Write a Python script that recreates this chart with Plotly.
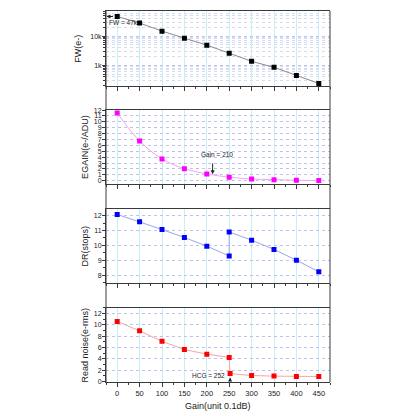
import math
import plotly.graph_objects as go

gain = [0, 50, 100, 150, 200, 250, 300, 350, 400, 450]
fw = [47000, 28000, 14800, 8500, 4900, 2600, 1370, 850, 450, 240]
egain = [11.5, 6.75, 3.7, 2.05, 1.15, 0.6, 0.3, 0.18, 0.08, 0.04]
dr_gain = [0, 50, 100, 150, 200, 250, 250, 300, 350, 400, 450]
dr = [12.09, 11.6, 11.07, 10.53, 9.95, 9.29, 10.91, 10.35, 9.73, 9.0, 8.22]
rn_gain = [0, 50, 100, 150, 200, 250, 252, 300, 350, 400, 450]
rn = [10.6, 8.93, 7.08, 5.63, 4.82, 4.24, 1.39, 1.04, 0.94, 0.87, 0.87]
x_ticks = [0, 50, 100, 150, 200, 250, 300, 350, 400, 450]

FONT = "Liberation Sans, Arial, sans-serif"
FRAME = "#3a3a3a"
VGRID = "#c8eef7"
HGRID = "#bcc3ef"

fig = go.Figure()

fig.add_trace(go.Scatter(x=gain, y=fw, mode="lines+markers", xaxis="x", yaxis="y",
                         line=dict(color="#8a8a8a", width=1),
                         marker=dict(symbol="square", size=5, color="black")))
fig.add_trace(go.Scatter(x=gain, y=egain, mode="lines+markers", xaxis="x2", yaxis="y2",
                         line=dict(color="#f2a6f2", width=1, shape="spline"),
                         marker=dict(symbol="square", size=5, color="#ff00ff")))
fig.add_trace(go.Scatter(x=dr_gain, y=dr, mode="lines+markers", xaxis="x3", yaxis="y3",
                         line=dict(color="#9fa3ee", width=1),
                         marker=dict(symbol="square", size=5, color="#0000ff")))
fig.add_trace(go.Scatter(x=rn_gain, y=rn, mode="lines+markers", xaxis="x4", yaxis="y4",
                         line=dict(color="#f2a6a6", width=1),
                         marker=dict(symbol="square", size=5, color="#ff0000")))

domains = [(0.797, 1.0), (0.533, 0.733), (0.267, 0.467), (0.0, 0.2)]


def xaxis(show_labels):
    return dict(range=[-25, 475], tickvals=x_ticks, showticklabels=show_labels,
                ticks="outside", ticklen=4, tickcolor=FRAME, tickwidth=1,
                minor=dict(dtick=25, tick0=0, ticks="outside", ticklen=2, tickcolor=FRAME),
                showgrid=True, gridcolor=VGRID, gridwidth=1, zeroline=False,
                showline=True, linecolor=FRAME, linewidth=1.2, mirror=True,
                tickfont=dict(size=7.5, family=FONT, color="#222"))


layout = dict(
    width=416, height=416,
    margin=dict(l=106, r=86, t=7, b=34),
    plot_bgcolor="white", paper_bgcolor="white",
    showlegend=False,
    font=dict(family=FONT, color="#222"),
)
for i, (d0, d1) in enumerate(domains):
    n = "" if i == 0 else str(i + 1)
    ax = xaxis(i == 3)
    ax["anchor"] = "y" + n
    ax["domain"] = [0, 1]
    layout["xaxis" + n] = ax

yfont = dict(size=7, family=FONT, color="#222")
ycommon = dict(ticks="outside", ticklen=3, tickcolor=FRAME, tickfont=yfont,
               ticklabelstandoff=-1, zeroline=False, showline=True,
               linecolor=FRAME, linewidth=1, showgrid=True, gridcolor=HGRID,
               gridwidth=1, griddash="dot")
layout["yaxis"] = dict(domain=list(domains[0]), anchor="x", type="log",
                       range=[2.28, 4.86], dtick=1, tickformat="~s",
                       minor=dict(dtick="D1", ticks="outside", ticklen=2, tickcolor=FRAME,
                                  showgrid=True, gridcolor="#d6dbf4", griddash="dot"),
                       **ycommon)
layout["yaxis2"] = dict(domain=list(domains[1]), anchor="x2", range=[-0.6, 12],
                        dtick=1, tick0=0, **ycommon)
layout["yaxis3"] = dict(domain=list(domains[2]), anchor="x3", range=[7.47, 12.47],
                        dtick=1, tick0=8,
                        minor=dict(dtick=0.5, ticks="outside", ticklen=2, tickcolor=FRAME),
                        **ycommon)
layout["yaxis4"] = dict(domain=list(domains[3]), anchor="x4", range=[-0.1, 13],
                        dtick=2, tick0=0,
                        minor=dict(dtick=1, ticks="outside", ticklen=2, tickcolor=FRAME),
                        **ycommon)
fig.update_layout(**layout)

# frame sides run through the gaps between panels
fig.add_shape(type="line", xref="paper", yref="paper", x0=0, x1=0, y0=0, y1=1,
              line=dict(color=FRAME, width=1))
fig.add_shape(type="line", xref="paper", yref="paper", x0=1, x1=1, y0=0, y1=1,
              line=dict(color=FRAME, width=1))

titles = [("FW(e-)", -0.125, sum(domains[0]) / 2),
          ("EGAIN(e-/ADU)", -0.095, sum(domains[1]) / 2),
          ("DR(stops)", -0.095, sum(domains[2]) / 2),
          ("Read noise(e-rms)", -0.095, sum(domains[3]) / 2)]
for t, x, y in titles:
    fig.add_annotation(text=t, xref="paper", yref="paper", x=x, y=y, textangle=-90,
                       xanchor="center", yanchor="middle", showarrow=False,
                       font=dict(size=9, family=FONT, color="#222"))
fig.add_annotation(text="Gain(unit 0.1dB)", xref="paper", yref="paper", x=0.5, y=-0.045,
                   yanchor="top", showarrow=False, font=dict(size=9, family=FONT, color="#222"))

small = dict(size=6.5, family=FONT, color="#222")
# FW = 47k
fig.add_annotation(x=-24, y=math.log10(47000), ax=-6, ay=math.log10(47000),
                   xref="x", yref="y", axref="x", ayref="y", text="", showarrow=True,
                   arrowhead=2, arrowsize=0.8, arrowwidth=1, arrowcolor="#222")
fig.add_annotation(x=-22, y=4.45, xref="x", yref="y", text="FW = 47k", xanchor="left",
                   showarrow=False, font=small)
# Gain = 210
fig.add_annotation(x=213, y=1.1, ax=213, ay=3.2, xref="x2", yref="y2", axref="x2", ayref="y2",
                   text="", showarrow=True, arrowhead=2, arrowsize=0.8, arrowwidth=1,
                   arrowcolor="#222")
fig.add_annotation(x=222, y=4.4, xref="x2", yref="y2", text="Gain = 210",
                   showarrow=False, font=small)
# HCG = 252
fig.add_annotation(x=252, y=0.7, ax=252, ay=0.0, xref="x4", yref="y4", axref="x4", ayref="y4",
                   text="", showarrow=True, arrowhead=2, arrowsize=0.8, arrowwidth=1,
                   arrowcolor="#222")
fig.add_annotation(x=246, y=1.0, xref="x4", yref="y4", text="HCG = 252", xanchor="right",
                   showarrow=False, font=small)

fig.write_html("out.html", config={"displayModeBar": False},
               post_script="document.body.style.margin='0';")
